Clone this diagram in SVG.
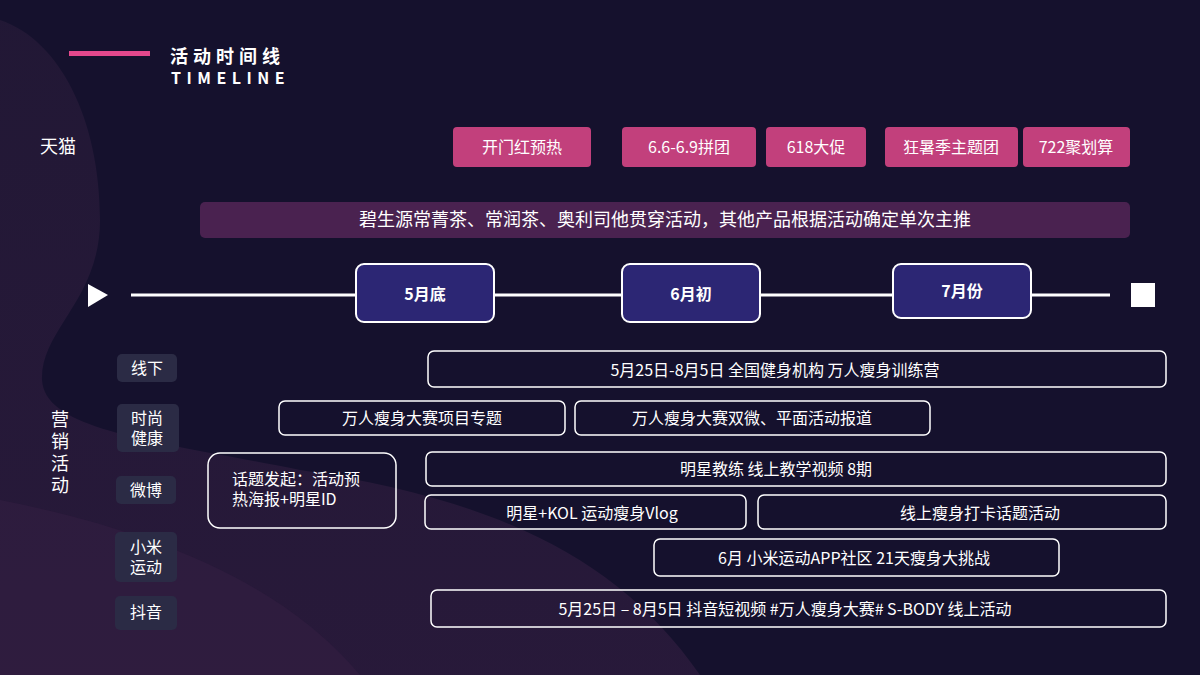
<svg xmlns="http://www.w3.org/2000/svg" width="1200" height="675" viewBox="0 0 1200 675">
<defs>
<linearGradient id="blob" x1="0" y1="0" x2="0" y2="1">
<stop offset="0" stop-color="#261a38"/><stop offset="1" stop-color="#2e1c3e"/>
</linearGradient>
<style>
text{font-family:"Noto Sans CJK SC","Noto Sans",sans-serif;fill:#fff}
.pk{fill:#c2407c}
.pt{font-size:16px;text-anchor:middle}
.mo{fill:#2c2674;stroke:#fff;stroke-width:2}
.mt{font-size:16px;font-weight:bold;text-anchor:middle}
.lb{fill:#2b2b45}
.lt{font-size:16px;text-anchor:middle}
.bx{fill:none;stroke:#fff;stroke-width:1.5}
.bt{font-size:16px;text-anchor:middle}
</style>
</defs>
<rect width="1200" height="675" fill="#15112d"/>
<path d="M0 20 C60 40 100 120 100 220 C100 300 40 330 42 380 C45 430 150 440 300 470 C500 500 620 560 700 675 L0 675 Z" fill="url(#blob)" opacity="0.75"/>
<path d="M0 500 C150 530 280 580 360 675 L0 675Z" fill="#3a2046" opacity="0.4"/>
<g id="title">
<rect x="69" y="51" width="81" height="5" fill="#e4488c"/>
<text x="170" y="63" font-size="18" font-weight="bold" letter-spacing="5">活动时间线</text>
<text x="171" y="84" font-size="16" font-weight="bold" font-family="Liberation Sans,sans-serif" letter-spacing="5.5">TIMELINE</text>
</g>
<text x="40" y="153" font-size="18">天猫</text>
<g id="tmall">
<rect class="pk" x="453" y="127" width="138" height="40" rx="4"/><text class="pt" x="522" y="153">开门红预热</text>
<rect class="pk" x="622" y="127" width="134" height="40" rx="4"/><text class="pt" x="689" y="153">6.6-6.9拼团</text>
<rect class="pk" x="766" y="127" width="100" height="40" rx="4"/><text class="pt" x="816" y="153">618大促</text>
<rect class="pk" x="885" y="127" width="133" height="40" rx="4"/><text class="pt" x="951" y="153">狂暑季主题团</text>
<rect class="pk" x="1023" y="127" width="107" height="40" rx="4"/><text class="pt" x="1076" y="153">722聚划算</text>
</g>
<g id="banner">
<rect x="200" y="202" width="930" height="36" rx="5" fill="#4a2250"/>
<text x="665" y="226" font-size="18" text-anchor="middle">碧生源常菁茶、常润茶、奥利司他贯穿活动，其他产品根据活动确定单次主推</text>
</g>
<g id="connectors">
<line x1="131" y1="295" x2="1110" y2="295" stroke="#fff" stroke-width="3"/>
<polygon points="88,284 108,295 88,307" fill="#fff"/>
<rect x="1131" y="283" width="24" height="24" fill="#fff"/>
</g>
<g id="months">
<rect class="mo" x="356" y="264" width="138" height="58" rx="8"/><text class="mt" x="425" y="300">5月底</text>
<rect class="mo" x="622" y="264" width="138" height="58" rx="8"/><text class="mt" x="691" y="300">6月初</text>
<rect class="mo" x="893" y="264" width="138" height="54" rx="8"/><text class="mt" x="962" y="297">7月份</text>
</g>
<g id="labels">
<text x="60" y="426" font-size="18" text-anchor="middle">营</text>
<text x="60" y="448" font-size="18" text-anchor="middle">销</text>
<text x="60" y="470" font-size="18" text-anchor="middle">活</text>
<text x="60" y="492" font-size="18" text-anchor="middle">动</text>
<rect class="lb" x="117" y="354" width="60" height="28" rx="5"/><text class="lt" x="147" y="374">线下</text>
<rect class="lb" x="117" y="404" width="62" height="48" rx="5"/><text class="lt" x="147" y="424">时尚</text><text class="lt" x="147" y="444">健康</text>
<rect class="lb" x="116" y="476" width="60" height="28" rx="5"/><text class="lt" x="146" y="496">微博</text>
<rect class="lb" x="115" y="532" width="62" height="50" rx="5"/><text class="lt" x="146" y="553">小米</text><text class="lt" x="146" y="573">运动</text>
<rect class="lb" x="115" y="596" width="62" height="34" rx="5"/><text class="lt" x="146" y="618">抖音</text>
</g>
<g id="activities" xml:space="preserve">
<rect class="bx" x="428" y="351" width="738" height="36" rx="6"/><text class="bt" x="775" y="376">5月25日-8月5日  全国健身机构  万人瘦身训练营</text>
<rect class="bx" x="279" y="401" width="286" height="34" rx="6"/><text class="bt" x="422" y="424">万人瘦身大赛项目专题</text>
<rect class="bx" x="575" y="401" width="355" height="34" rx="6"/><text class="bt" x="752" y="424">万人瘦身大赛双微、平面活动报道</text>
<rect class="bx" x="208" y="453" width="188" height="75" rx="12"/><text x="232" y="485" font-size="16">话题发起：活动预</text><text x="232" y="505" font-size="16">热海报+明星ID</text>
<rect class="bx" x="426" y="452" width="740" height="34" rx="6"/><text class="bt" x="776" y="475">明星教练 线上教学视频 8期</text>
<rect class="bx" x="425" y="495" width="321" height="34" rx="6"/><text class="bt" x="592" y="519">明星+KOL 运动瘦身Vlog</text>
<rect class="bx" x="758" y="495" width="408" height="34" rx="6"/><text class="bt" x="980" y="519">线上瘦身打卡话题活动</text>
<rect class="bx" x="654" y="539" width="405" height="37" rx="6"/><text class="bt" x="854" y="564">6月 小米运动APP社区 21天瘦身大挑战</text>
<rect class="bx" x="431" y="590" width="735" height="37" rx="6"/><text class="bt" x="785" y="615">5月25日 – 8月5日 抖音短视频 #万人瘦身大赛# S-BODY 线上活动</text>
</g>
</svg>
